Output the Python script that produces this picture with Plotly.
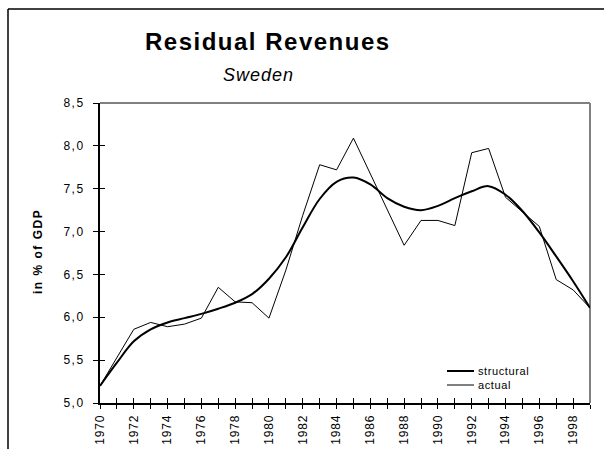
import plotly.graph_objects as go

# Residual revenues, Sweden, in % of GDP
years = list(range(1970, 2000))

structural = [5.20, 5.47, 5.72, 5.86, 5.94, 5.99, 6.04, 6.10, 6.17, 6.27,
              6.45, 6.70, 7.05, 7.38, 7.58, 7.63, 7.55, 7.39, 7.29, 7.25,
              7.30, 7.39, 7.47, 7.53, 7.43, 7.24, 6.99, 6.71, 6.42, 6.11]

actual = [5.20, 5.53, 5.86, 5.94, 5.89, 5.92, 5.99, 6.35, 6.18, 6.17,
          5.99, 6.55, 7.19, 7.78, 7.72, 8.09, 7.67, 7.26, 6.84, 7.13,
          7.13, 7.07, 7.92, 7.97, 7.40, 7.23, 7.06, 6.44, 6.32, 6.11]

series_names = ["structural", "actual"]

x_tick_vals = years
y_tick_vals = [5.0, 5.5, 6.0, 6.5, 7.0, 7.5, 8.0, 8.5]

W, H = 604, 449
L, R, T, B = 100, 14, 103, 46
PW, PH = W - L - R, H - T - B


def px(x):
    return (x - L) / PW


def py(y):
    return (H - B - y) / PH


def spaced(s, sp):
    return f'<span style="letter-spacing:{sp}px">{s}</span>'


FONT = "Liberation Sans, Arial, sans-serif"

x_tick_text = [spaced(str(y), 0.8) if y % 2 == 0 else "" for y in years]
y_tick_text = [spaced(f"{v:.1f}".replace(".", ","), 1.5) for v in y_tick_vals]

fig = go.Figure()
fig.add_trace(go.Scatter(x=years, y=structural, name=series_names[0], mode="lines",
                         line=dict(color="black", width=2, shape="spline", smoothing=1.0),
                         showlegend=False))
fig.add_trace(go.Scatter(x=years, y=actual, name=series_names[1], mode="lines",
                         line=dict(color="black", width=1), showlegend=False))

axis_common = dict(showgrid=False, zeroline=False, showline=True, linecolor="black",
                   linewidth=2, tickcolor="black", tickwidth=1, automargin=False)

fig.update_layout(
    width=W, height=H,
    margin=dict(l=L, r=R, t=T, b=B, pad=0, autoexpand=False),
    paper_bgcolor="white", plot_bgcolor="white",
    font=dict(family=FONT, size=12, color="black"),
    showlegend=False,
    xaxis=dict(range=[1970, 1999], tickmode="array", tickvals=x_tick_vals,
               ticktext=x_tick_text, ticks="outside", ticklen=4, tickangle=-90,
               ticklabelstandoff=1, tickfont=dict(size=12), **axis_common),
    yaxis=dict(range=[5.0, 8.5], tickmode="array", tickvals=y_tick_vals,
               ticktext=y_tick_text, ticks="outside", ticklen=5,
               ticklabelstandoff=6, tickfont=dict(size=12), **axis_common),
    xaxis2=dict(range=[1970, 1999], overlaying="x", tickmode="array",
                tickvals=x_tick_vals, ticks="inside", ticklen=5, showticklabels=False,
                showgrid=False, zeroline=False, showline=False, tickcolor="black",
                automargin=False),
    yaxis2=dict(range=[5.0, 8.5], overlaying="y", tickmode="array",
                tickvals=y_tick_vals, ticks="inside", ticklen=5, showticklabels=False,
                showgrid=False, zeroline=False, showline=False, tickcolor="black",
                automargin=False),
)

# empty trace to activate the overlay axes carrying the inner tick marks
fig.add_trace(go.Scatter(x=[None], y=[None], xaxis="x2", yaxis="y2",
                         showlegend=False, hoverinfo="skip"))

# plot-area frame (grey top and right edges) and outer chart border
fig.add_shape(type="line", xref="paper", yref="paper", x0=0, x1=1, y0=1, y1=1,
              line=dict(color="#808080", width=2), layer="below")
fig.add_shape(type="line", xref="paper", yref="paper", x0=1, x1=1, y0=0, y1=1,
              line=dict(color="#808080", width=2), layer="below")
fig.add_shape(type="line", xref="paper", yref="paper", x0=px(8), x1=px(W + 5),
              y0=py(9), y1=py(9), line=dict(color="black", width=1.5))
fig.add_shape(type="line", xref="paper", yref="paper", x0=px(8), x1=px(8),
              y0=py(9), y1=py(H + 5), line=dict(color="black", width=1.5))

# legend: line samples with labels
for name, width, ypix in [(series_names[0], 2, 371), (series_names[1], 1, 385)]:
    fig.add_shape(type="line", xref="paper", yref="paper", x0=px(447), x1=px(474),
                  y0=py(ypix), y1=py(ypix), line=dict(color="black", width=width))
    fig.add_annotation(text=spaced(name, 0.6), xref="paper", yref="paper",
                       x=px(476), y=py(ypix), xanchor="left", yanchor="middle",
                       showarrow=False, font=dict(family=FONT, size=11, color="black"))

fig.add_annotation(text=spaced("<b>Residual Revenues</b>", 1.5), xref="paper", yref="paper",
                   x=px(268), y=py(42), xanchor="center", yanchor="middle",
                   showarrow=False, font=dict(family=FONT, size=24, color="black"))
fig.add_annotation(text=spaced("<i>Sweden</i>", 1), xref="paper", yref="paper",
                   x=px(258), y=py(75), xanchor="center", yanchor="middle",
                   showarrow=False, font=dict(family=FONT, size=18, color="black"))
fig.add_annotation(text=spaced("<b>in % of GDP</b>", 1.5), xref="paper", yref="paper",
                   x=px(38), y=py(252), xanchor="center", yanchor="middle",
                   textangle=-90, showarrow=False,
                   font=dict(family=FONT, size=12, color="black"))

fig.write_html("out.html")
